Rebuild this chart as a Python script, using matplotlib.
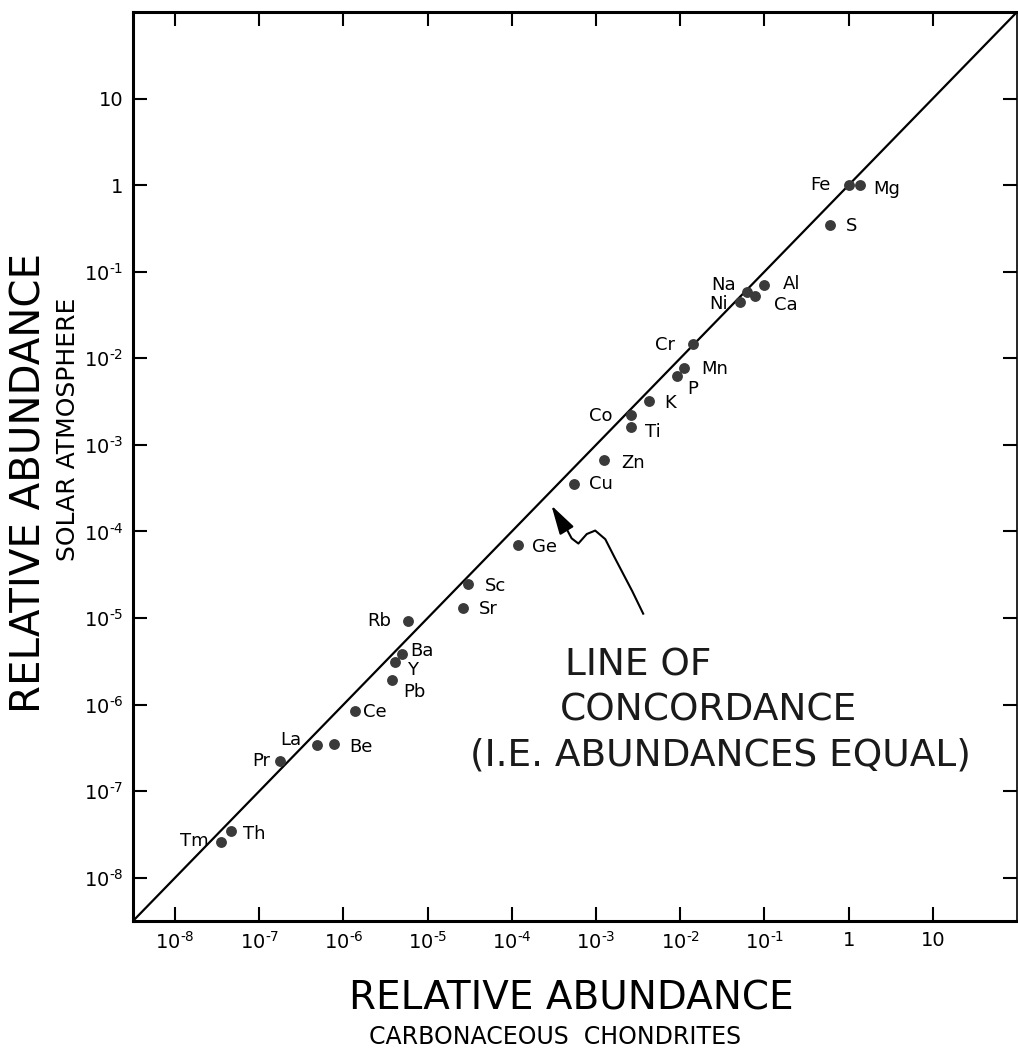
import matplotlib
matplotlib.use("Agg")
import matplotlib.pyplot as plt
import numpy as np

plt.rcParams["font.family"] = ["DejaVu Sans"]
plt.rcParams["mathtext.fontset"] = "dejavusans"

# element abundances, relative to Fe = 1
elements = ["Fe", "Mg", "S", "Na", "Al", "Ca", "Ni", "Cr", "Mn", "P", "K", "Co", "Ti",
            "Zn", "Cu", "Ge", "Sc", "Sr", "Rb", "Ba", "Y", "Pb", "Ce", "Be", "La", "Pr",
            "Th", "Tm"]
chondrites = [1.0, 1.35, 0.60, 0.062, 0.098, 0.078, 0.051, 0.0141, 0.011, 0.0091,
              0.0043, 0.0026, 0.0026, 1.26e-3, 5.4e-4, 1.17e-4, 3.0e-5, 2.6e-5,
              5.9e-6, 5.0e-6, 4.1e-6, 3.8e-6, 1.38e-6, 7.8e-7, 4.9e-7, 1.74e-7,
              4.6e-8, 3.5e-8]
solar = [1.0, 1.0, 0.35, 0.058, 0.071, 0.052, 0.045, 0.0145, 0.0078, 0.0063,
         0.0032, 0.0022, 0.0016, 6.6e-4, 3.5e-4, 6.9e-5, 2.45e-5, 1.32e-5,
         9.3e-6, 3.8e-6, 3.1e-6, 1.9e-6, 8.5e-7, 3.55e-7, 3.4e-7, 2.24e-7,
         3.5e-8, 2.6e-8]

decades = [-8, -7, -6, -5, -4, -3, -2, -1, 0, 1]
tick_labels = [r"$10^{\text{-}8}$", r"$10^{\text{-}7}$", r"$10^{\text{-}6}$",
               r"$10^{\text{-}5}$", r"$10^{\text{-}4}$", r"$10^{\text{-}3}$",
               r"$10^{\text{-}2}$", r"$10^{\text{-}1}$", "1", "10"]

# label offsets in pixels (dx right, dy down) from each point
label_offsets = {
    "Fe": (-28, 0), "Mg": (27, 4), "S": (22, 1), "Na": (-23, -7), "Al": (28, -1),
    "Ca": (30, 9), "Ni": (-21, 2), "Cr": (-28, 1), "Mn": (31, 1), "P": (16, 13),
    "K": (21, 2), "Co": (-30, 1), "Ti": (22, 5), "Zn": (29, 3), "Cu": (27, 0),
    "Ge": (27, 2), "Sc": (28, 2), "Sr": (26, 1), "Rb": (-29, 0), "Ba": (20, -3),
    "Y": (17, 8), "Pb": (22, 12), "Ce": (20, 1), "Be": (27, 3), "La": (-27, -5),
    "Pr": (-18, 0), "Th": (23, 3), "Tm": (-27, -1),
}

# hand-drawn pointer from the caption to the line (log10 x, log10 y)
pointer_path = [(-2.44, -4.95), (-2.57, -4.69), (-2.78, -4.30), (-2.89, -4.09),
                (-3.01, -3.99), (-3.11, -4.03), (-3.21, -4.14), (-3.29, -4.08),
                (-3.40, -3.88), (-3.48, -3.78)]
pointer_tip = (-3.53, -3.70)

fig = plt.figure(figsize=(10.18, 10.54), dpi=100)
ax = fig.add_axes([133 / 1018, 1 - 921 / 1054, 884 / 1018, 909 / 1054])
ax.set_xscale("log")
ax.set_yscale("log")
lo, hi = 10 ** -8.5, 10 ** 2
ax.set_xlim(lo, hi)
ax.set_ylim(lo, hi)

# line of concordance
ax.plot([lo, hi], [lo, hi], color="black", lw=1.6, zorder=2)
ax.plot(chondrites, solar, "o", color="#3a3a3a", ms=6.8, zorder=3)

for el, x, y in zip(elements, chondrites, solar):
    dx, dy = label_offsets[el]
    ax.annotate(el, (x, y), xytext=(dx * 0.72, -dy * 0.72), textcoords="offset points",
                ha="center", va="center", fontsize=13)

px = [10 ** a for a, b in pointer_path]
py = [10 ** b for a, b in pointer_path]
ax.plot(px, py, color="black", lw=1.5)
ax.annotate("", xy=(10 ** pointer_tip[0], 10 ** pointer_tip[1]), xytext=(px[-1], py[-1]),
            arrowprops=dict(arrowstyle="-|>,head_width=0.25,head_length=0.9", color="black",
                            lw=1.5, mutation_scale=20, shrinkA=0, shrinkB=0))

cap = dict(transform=ax.transAxes, fontsize=27, va="baseline", color="#1a1a1a")
ax.text(0.489, 0.270, "LINE OF", **cap)
ax.text(0.483, 0.221, "CONCORDANCE", **cap)
ax.text(0.381, 0.171, "(I.E. ABUNDANCES EQUAL)", **cap)

ticks = [10.0 ** d for d in decades]
ax.set_xticks(ticks)
ax.set_xticklabels(tick_labels)
ax.set_yticks(ticks)
ax.set_yticklabels(tick_labels)
ax.minorticks_off()
ax.tick_params(which="major", direction="in", top=True, right=True, length=10, width=1.5,
               labelsize=14, pad=7)
for side in ["left", "bottom", "top"]:
    ax.spines[side].set_linewidth(2.2)
ax.spines["right"].set_linewidth(1.2)

fig.text(571 / 1018, 1 - 998 / 1054, "RELATIVE ABUNDANCE", fontsize=28, ha="center", va="center")
fig.text(555 / 1018, 1 - 1037 / 1054, "CARBONACEOUS  CHONDRITES", fontsize=17,
         ha="center", va="center")
fig.text(30 / 1018, 1 - 483 / 1054, "RELATIVE ABUNDANCE", fontsize=29, rotation=90,
         ha="center", va="center")
fig.text(68 / 1018, 1 - 429 / 1054, "SOLAR ATMOSPHERE", fontsize=18, rotation=90,
         ha="center", va="center")

fig.savefig("out.png", dpi=100)
